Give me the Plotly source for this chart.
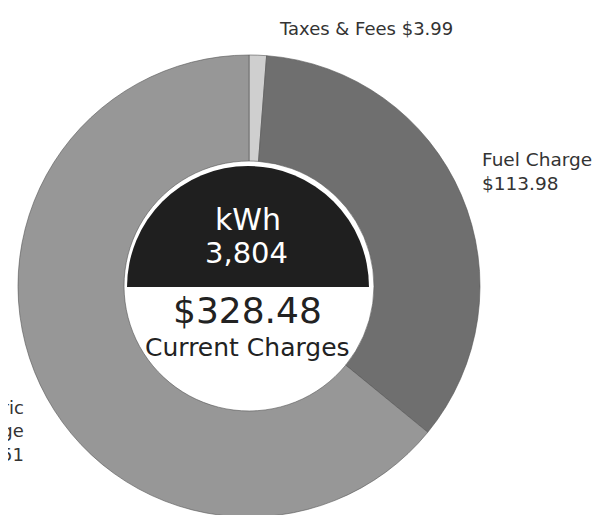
import plotly.graph_objects as go

# Data
categories = ["Taxes & Fees", "Fuel Charge", "Electric Service Charge"]
charges = [3.99, 113.98, 210.51]
total_charges = 328.48
kwh_usage = 3804
slice_colors = ["#cfcfcf", "#6f6f6f", "#979797"]

FONT = "DejaVu Sans"
W, H = 600, 515

fig = go.Figure()

# Outer donut
fig.add_trace(go.Pie(
    labels=categories,
    values=charges,
    sort=False,
    direction="clockwise",
    rotation=0,
    hole=0.541,
    marker=dict(colors=slice_colors, line=dict(color="#555555", width=0.6)),
    textinfo="none",
    hoverinfo="label+value",
    showlegend=False,
    domain=dict(x=[10 / W, 472 / W], y=[6 / H, 468 / H]),
))

# Inner badge: dark upper half, white lower half
fig.add_trace(go.Pie(
    labels=["kWh", "Current Charges"],
    values=[1, 1],
    sort=False,
    direction="clockwise",
    rotation=-90,
    marker=dict(colors=["#1f1f1f", "#ffffff"], line=dict(width=0)),
    textinfo="none",
    hoverinfo="skip",
    showlegend=False,
    domain=dict(x=[119 / W, 361 / W], y=[115 / H, 357 / H]),
))

def px(x):
    return x / W

def py(y):
    return 1 - y / H

annotations = [
    dict(text="kWh", x=px(240), y=py(211), font=dict(size=30, color="white", family=FONT),
         xanchor="center", yanchor="middle"),
    dict(text=f"{kwh_usage:,}", x=px(238), y=py(245), font=dict(size=29, color="white", family=FONT),
         xanchor="center", yanchor="middle"),
    dict(text=f"${total_charges:,.2f}", x=px(239), y=py(302), font=dict(size=36, color="#222222", family=FONT),
         xanchor="center", yanchor="middle"),
    dict(text="Current Charges", x=px(239), y=py(339), font=dict(size=25, color="#222222", family=FONT),
         xanchor="center", yanchor="middle"),
    dict(text=f"{categories[0]} ${charges[0]:.2f}", x=px(447), y=py(21),
         font=dict(size=18, color="#333333", family=FONT), xanchor="right", yanchor="middle"),
    dict(text=f"{categories[1]}<br>${charges[1]:.2f}", x=px(472), y=py(163), align="left",
         font=dict(size=18.5, color="#333333", family=FONT), xanchor="left", yanchor="middle"),
    dict(text=f"Electric<br>Service Charge<br>${charges[2]:.2f}", x=px(18), y=py(423), align="right",
         font=dict(size=18, color="#333333", family=FONT), xanchor="right", yanchor="middle"),
]
for a in annotations:
    a.update(xref="paper", yref="paper", showarrow=False)

fig.update_layout(
    width=W, height=H,
    margin=dict(l=0, r=0, t=0, b=0),
    paper_bgcolor="white",
    plot_bgcolor="white",
    annotations=annotations,
)

fig.write_html("out.html")
